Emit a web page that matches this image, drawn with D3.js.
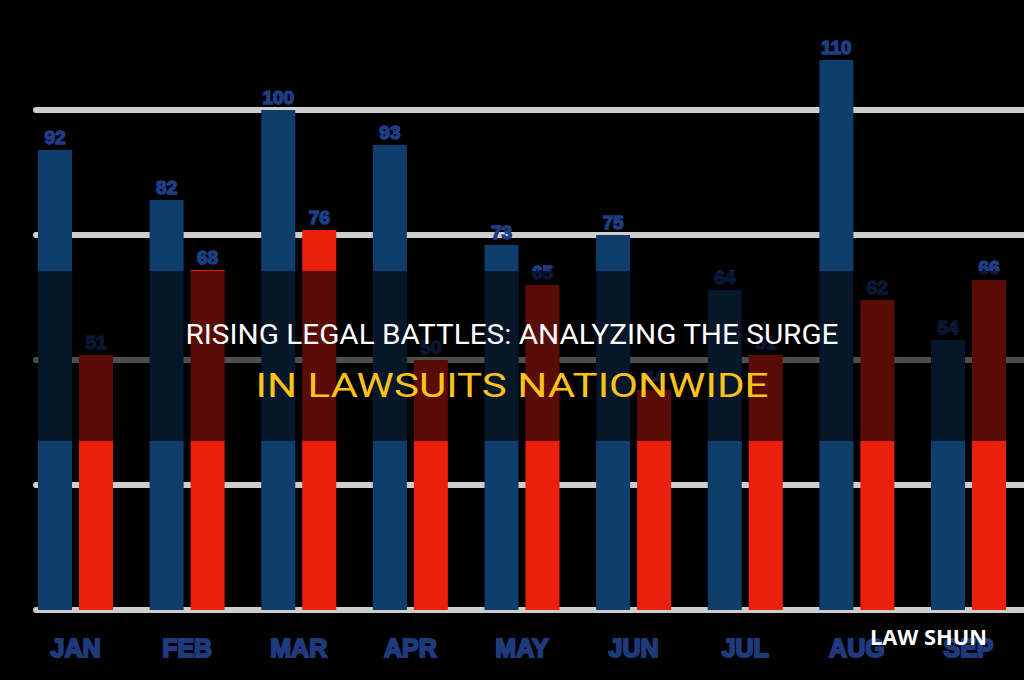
<!DOCTYPE html>
<html>
<head>
<meta charset="utf-8">
<script src="https://cdn.jsdelivr.net/npm/d3@7"></script>
<style>
  html, body { margin: 0; padding: 0; background: #000; }
  svg { display: block; }
</style>
</head>
<body>
<svg id="chart"></svg>
<script>
const months = ["JAN", "FEB", "MAR", "APR", "MAY", "JUN", "JUL", "AUG", "SEP"];
const blueValues = [92, 82, 100, 93, 73, 75, 64, 110, 54];
const redValues = [51, 68, 76, 50, 65, 44, 51, 62, 66];
const gridTicks = [0, 25, 50, 75, 100];
const titleLine1 = "RISING LEGAL BATTLES: ANALYZING THE SURGE";
const titleLine2 = "IN LAWSUITS NATIONWIDE";
const brand = "LAW SHUN";

const width = 1024;
const height = 680;

const svg = d3.select("#chart")
    .attr("width", width)
    .attr("height", height);

svg.append("rect")
    .attr("width", width)
    .attr("height", height)
    .attr("fill", "#000");

const data = months.map((m, i) => ({month: m, blue: blueValues[i], red: redValues[i]}));

const x = d3.scaleBand()
    .domain(months)
    .range([38, 1006])
    .paddingInner(0.328)
    .paddingOuter(0);

const xSub = d3.scaleBand()
    .domain(["blue", "red"])
    .range([0, x.bandwidth()])
    .paddingInner(0.17);

const y = d3.scaleLinear()
    .domain([0, 100])
    .range([610, 110]);

const colors = {blue: "#0f3e6c", red: "#e8200c"};

// grid lines, behind the bars
svg.append("g")
    .selectAll("line")
    .data(gridTicks)
    .join("line")
    .attr("x1", 36)
    .attr("x2", width)
    .attr("y1", d => y(d))
    .attr("y2", d => y(d))
    .attr("stroke", "#cdcdcd")
    .attr("stroke-width", 6)
    .attr("stroke-linecap", "round");

const groups = svg.append("g")
    .selectAll("g")
    .data(data)
    .join("g")
    .attr("transform", d => `translate(${x(d.month)},0)`);

const bars = groups.selectAll("g")
    .data(d => ["blue", "red"].map(k => ({key: k, value: d[k]})))
    .join("g");

bars.append("rect")
    .attr("x", d => xSub(d.key))
    .attr("y", d => y(d.value))
    .attr("width", xSub.bandwidth())
    .attr("height", d => y(0) - y(d.value))
    .attr("fill", d => colors[d.key]);

bars.append("text")
    .attr("x", d => xSub(d.key) + xSub.bandwidth() / 2)
    .attr("y", d => y(d.value) - 6)
    .attr("text-anchor", "middle")
    .attr("font-family", "Liberation Sans, Arial, sans-serif")
    .attr("font-weight", 700)
    .attr("font-size", 19)
    .attr("fill", "#1f3d85")
    .attr("stroke", "#1f3d85")
    .attr("stroke-width", 1.5)
    .text(d => d.value);

// month labels
svg.append("g")
    .selectAll("text")
    .data(months)
    .join("text")
    .attr("x", d => x(d) + x.bandwidth() / 2)
    .attr("y", 657)
    .attr("text-anchor", "middle")
    .attr("font-family", "Liberation Sans, Arial, sans-serif")
    .attr("font-weight", 700)
    .attr("font-size", 25)
    .attr("fill", "#1e3a7c")
    .attr("stroke", "#1e3a7c")
    .attr("stroke-width", 2)
    .text(d => d);

// dark band behind the title
svg.append("rect")
    .attr("x", 0)
    .attr("y", 271)
    .attr("width", width)
    .attr("height", 170)
    .attr("fill", "#000")
    .attr("opacity", 0.62);

svg.append("text")
    .attr("x", 512)
    .attr("y", 344)
    .attr("text-anchor", "middle")
    .attr("font-family", "Roboto, sans-serif")
    .attr("font-size", 27)
    .attr("fill", "#ffffff")
    .attr("textLength", 653)
    .attr("lengthAdjust", "spacingAndGlyphs")
    .text(titleLine1);

svg.append("text")
    .attr("x", 512)
    .attr("y", 397)
    .attr("text-anchor", "middle")
    .attr("font-family", "Roboto, sans-serif")
    .attr("font-size", 34)
    .attr("fill", "#fcc21b")
    .attr("textLength", 513)
    .attr("lengthAdjust", "spacingAndGlyphs")
    .text(titleLine2);

svg.append("text")
    .attr("x", 987)
    .attr("y", 645)
    .attr("text-anchor", "end")
    .attr("font-family", "Open Sans, sans-serif")
    .attr("font-weight", 700)
    .attr("font-size", 21)
    .attr("fill", "#ffffff")
    .attr("textLength", 117)
    .attr("lengthAdjust", "spacingAndGlyphs")
    .text(brand);
</script>
</body>
</html>
